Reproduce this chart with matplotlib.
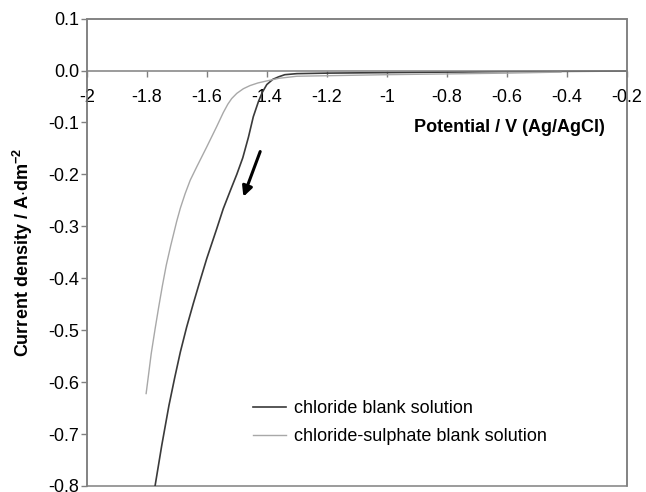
import matplotlib
matplotlib.use("Agg")
import matplotlib.pyplot as plt
from matplotlib.patches import Rectangle

plt.rcParams['font.family'] = ['Liberation Sans', 'DejaVu Sans']
plt.rcParams['axes.unicode_minus'] = False
plt.rcParams['mathtext.fontset'] = 'custom'
plt.rcParams['mathtext.rm'] = 'Liberation Sans'
plt.rcParams['mathtext.bf'] = 'Liberation Sans:bold'

# cathodic scans, potential (V vs Ag/AgCl) and current density (A/dm2)
chloride_E = [-0.2, -0.6, -1.0, -1.2, -1.3, -1.34, -1.36, -1.38, -1.40, -1.415,
              -1.428, -1.445, -1.461, -1.48, -1.50, -1.52, -1.545, -1.567, -1.6,
              -1.622, -1.645, -1.667, -1.688, -1.707, -1.726, -1.75, -1.772]
chloride_j = [-0.001, -0.002, -0.004, -0.005, -0.006, -0.008, -0.012, -0.017,
              -0.027, -0.042, -0.060, -0.089, -0.128, -0.168, -0.200, -0.229,
              -0.266, -0.305, -0.362, -0.404, -0.449, -0.494, -0.542, -0.592,
              -0.645, -0.722, -0.799]

sulphate_E = [-0.42, -0.6, -1.0, -1.2, -1.3, -1.36, -1.40, -1.43, -1.456,
              -1.478, -1.50, -1.517, -1.53, -1.545, -1.567, -1.6, -1.633,
              -1.655, -1.672, -1.688, -1.7, -1.72, -1.735, -1.748, -1.76,
              -1.772, -1.785, -1.796, -1.802]
sulphate_j = [-0.003, -0.005, -0.008, -0.010, -0.011, -0.015, -0.020, -0.024,
              -0.029, -0.035, -0.044, -0.054, -0.065, -0.081, -0.108, -0.147,
              -0.185, -0.211, -0.237, -0.265, -0.290, -0.337, -0.375, -0.415,
              -0.455, -0.497, -0.545, -0.595, -0.622]

x_ticks = [-2, -1.8, -1.6, -1.4, -1.2, -1, -0.8, -0.6, -0.4, -0.2]
x_labels = ['-2', '-1.8', '-1.6', '-1.4', '-1.2', '-1', '-0.8', '-0.6', '-0.4', '-0.2']
y_ticks = [0.1, 0.0, -0.1, -0.2, -0.3, -0.4, -0.5, -0.6, -0.7, -0.8]
y_labels = ['0.1', '0.0', '-0.1', '-0.2', '-0.3', '-0.4', '-0.5', '-0.6', '-0.7', '-0.8']

# scan direction arrow
arrow_start = (-1.422, -0.156)
arrow_end = (-1.478, -0.243)

frame_grey = '#808080'

fig = plt.figure(figsize=(6.46, 4.92), dpi=100)
ax = fig.add_axes([0.1342, 0.0122, 0.8364, 0.95])

ax.plot(chloride_E, chloride_j, color='#3a3a3a', lw=1.2, label='chloride blank solution')
ax.plot(sulphate_E, sulphate_j, color='#a8a8a8', lw=1.0, label='chloride-sulphate blank solution')

ax.annotate('', xy=arrow_end, xytext=arrow_start,
            arrowprops=dict(arrowstyle='-|>', color='black', lw=2.2, mutation_scale=15,
                            shrinkA=0, shrinkB=0))

ax.set_xlim(-2, -0.2)
ax.set_ylim(-0.8, 0.1)

# x axis runs through zero, box drawn round the plot area
for side in ['top', 'right', 'left']:
    ax.spines[side].set_color(frame_grey)
    ax.spines[side].set_linewidth(1.1)
ax.spines['bottom'].set_position(('data', 0))
ax.spines['bottom'].set_color(frame_grey)
ax.spines['bottom'].set_linewidth(1.1)
ax.add_patch(Rectangle((0, 0), 1, 1, transform=ax.transAxes, fill=False,
                       edgecolor=frame_grey, lw=1.1, clip_on=False))

ax.set_xticks(x_ticks)
ax.set_xticklabels(x_labels)
ax.set_yticks(y_ticks)
ax.set_yticklabels(y_labels)
ax.tick_params(axis='x', direction='out', length=4.5, width=1, color=frame_grey,
               labelsize=13, pad=9)
ax.tick_params(axis='y', direction='out', length=4.5, width=1, color=frame_grey,
               labelsize=13, pad=1)

ax.set_xlabel('Potential / V (Ag/AgCl)', fontsize=13, fontweight='bold', ha='right')
ax.xaxis.set_label_coords(0.959, 0.785)
ax.set_ylabel(r'Current density / A$\cdot$dm$^{\mathbf{-2}}$', fontsize=13, fontweight='bold')
ax.yaxis.set_label_coords(-0.095, 0.5)

ax.legend(loc='upper left', bbox_to_anchor=(0.308, 0.183), frameon=False, fontsize=13,
          handlelength=1.8, handletextpad=0.45, labelspacing=0.6, borderpad=0,
          borderaxespad=0)

fig.savefig('out.png', dpi=100)
